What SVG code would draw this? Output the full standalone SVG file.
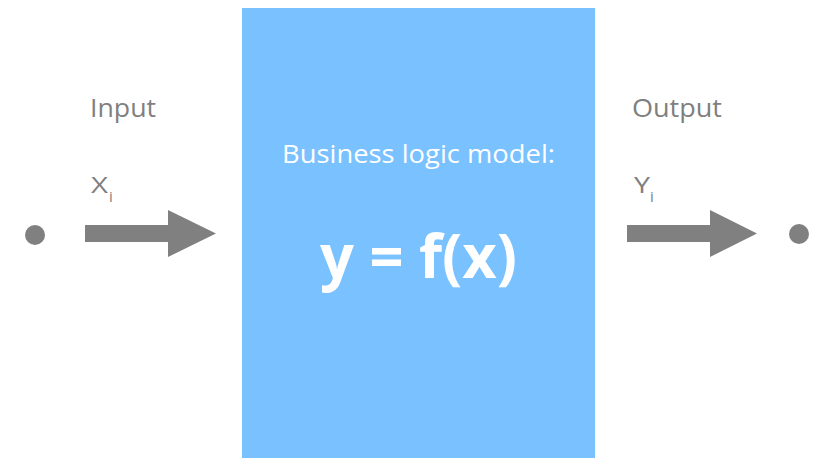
<svg xmlns="http://www.w3.org/2000/svg" width="816" height="458" viewBox="0 0 816 458">
<style>
.lbl{font-family:"Open Sans","Liberation Sans",sans-serif;fill:#7f7f7f;font-size:26px}
.sym{font-family:"Open Sans","Liberation Sans",sans-serif;fill:#7f7f7f;font-size:21px}
.sub{font-family:"Open Sans","Liberation Sans",sans-serif;fill:#7f7f7f;font-size:15px}
.arrow{fill:#808080}
.dot{fill:#808080}
</style>
<rect width="816" height="458" fill="#ffffff"/>
<g id="model">
<rect x="242" y="8" width="353" height="450" fill="#79c1ff"/>
<text x="418.5" y="163" text-anchor="middle" font-family="'Open Sans','Liberation Sans',sans-serif" font-size="25" fill="#ffffff" textLength="273" lengthAdjust="spacingAndGlyphs">Business logic model:</text>
<text x="418.5" y="278" text-anchor="middle" font-family="'Open Sans','Liberation Sans',sans-serif" font-size="60" font-weight="bold" fill="#ffffff" textLength="197" lengthAdjust="spacingAndGlyphs">y = f(x)</text>
</g>
<g id="input">
<circle class="dot" cx="35" cy="235" r="10"/>
<text class="lbl" x="90" y="117" textLength="66" lengthAdjust="spacingAndGlyphs">Input</text>
<text class="sym" x="91" y="193" textLength="17" lengthAdjust="spacingAndGlyphs">X</text><text class="sub" x="109" y="202">i</text>
</g>
<g id="output">
<circle class="dot" cx="799" cy="234" r="10"/>
<text class="lbl" x="632" y="117" textLength="90" lengthAdjust="spacingAndGlyphs">Output</text>
<text class="sym" x="634" y="193" textLength="16" lengthAdjust="spacingAndGlyphs">Y</text><text class="sub" x="650" y="202">i</text>
</g>
<g id="connectors">
<polygon class="arrow" points="85,225 168,225 168,210 216,233.5 168,257 168,242 85,242"/>
<polygon class="arrow" points="627,225 710,225 710,210 757,233.5 710,257 710,242 627,242"/>
</g>
</svg>
